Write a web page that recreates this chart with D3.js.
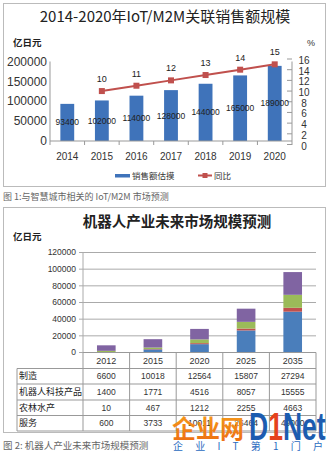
<!DOCTYPE html>
<html><head><meta charset="utf-8">
<script src="https://cdn.jsdelivr.net/npm/d3@7"></script>
<style>
html,body{margin:0;padding:0;background:#fff;}
svg{display:block;}
text{font-family:"Liberation Sans","DejaVu Sans",sans-serif;}
.cjk{font-family:"Noto Sans CJK SC","Noto Sans",sans-serif;}
</style></head>
<body>
<svg id="c" width="331" height="452"></svg>
<script>
// ---------- Chart 1 data ----------
const years1 = ["2014","2015","2016","2017","2018","2019","2020"];
const sales = [93400,102000,114000,128000,144000,165000,189000];
const yoyYears = ["2015","2016","2017","2018","2019","2020"];
const yoy = [10,11,12,13,14,15];
const leftTicks = [0,50000,100000,150000,200000];
const rightTicks = [0,2,4,6,8,10,12,14,16];

// ---------- Chart 2 data ----------
const years2 = ["2012","2015","2020","2025","2035"];
const rowNames = ["制造","机器人科技产品","农林水产","服务"];
const manufacturing = [6600,10018,12564,15807,27294];
const robotProducts = [1400,1771,4516,8057,15555];
const agriculture = [10,467,1212,2255,4663];
const services = [600,3733,10011,26464,49000];
const ticks2 = [0,20000,40000,60000,80000,100000,120000];

const svg = d3.select("#c");

// ===== Chart 1 =====
svg.append("rect").attr("x",3.5).attr("y",3.5).attr("width",322).attr("height",183)
  .attr("fill","#fff").attr("stroke","#bbb");
svg.append("text").attr("class","cjk").attr("x",165).attr("y",22).attr("text-anchor","middle")
  .attr("font-size",15).attr("fill","#222").text("2014-2020年IoT/M2M关联销售额规模");
svg.append("text").attr("class","cjk").attr("x",13).attr("y",46).attr("font-size",9.5)
  .attr("font-weight","bold").attr("fill","#222").text("亿日元");
svg.append("text").attr("x",307).attr("y",46).attr("font-size",9).attr("fill","#333").text("%");

const x1 = d3.scaleBand().domain(years1).range([50,292]).paddingInner(0.6).paddingOuter(0.3);
const y1 = d3.scaleLinear().domain([0,200000]).range([141,61.5]);
const y1r = d3.scaleLinear().domain([0,16]).range([144.5,59]);

// left axis
svg.append("line").attr("x1",50).attr("x2",50).attr("y1",61.5).attr("y2",141).attr("stroke","#999");
svg.append("g").selectAll("text").data(leftTicks).join("text")
  .attr("x",47).attr("y",d=>y1(d)).attr("dy","0.35em").attr("text-anchor","end")
  .attr("font-size",12).attr("fill","#333").text(d=>d);
// right axis
svg.append("line").attr("x1",292).attr("x2",292).attr("y1",61.5).attr("y2",141).attr("stroke","#999");
svg.append("g").selectAll("line").data(rightTicks).join("line")
  .attr("x1",287).attr("x2",292).attr("y1",d=>y1r(d)).attr("y2",d=>y1r(d)).attr("stroke","#999");
svg.append("g").selectAll("text").data(rightTicks).join("text")
  .attr("x",304).attr("y",d=>y1r(d)+1.5).attr("dy","0.35em").attr("text-anchor","middle")
  .attr("font-size",10).attr("fill","#333").text(d=>d);
// bars
svg.append("g").selectAll("rect").data(sales).join("rect")
  .attr("x",(d,i)=>x1(years1[i])).attr("width",x1.bandwidth())
  .attr("y",d=>y1(d)).attr("height",d=>y1(0)-y1(d)).attr("fill","#3f73ba");
// x axis
svg.append("line").attr("x1",50).attr("x2",292).attr("y1",141).attr("y2",141).attr("stroke","#999");
svg.append("g").selectAll("line").data(d3.range(years1.length+1)).join("line")
  .attr("x1",d=>50+d*x1.step()).attr("x2",d=>50+d*x1.step()).attr("y1",141).attr("y2",145).attr("stroke","#999");
svg.append("g").selectAll("text").data(years1).join("text")
  .attr("x",d=>x1(d)+x1.bandwidth()/2).attr("y",160).attr("text-anchor","middle")
  .attr("font-size",10).attr("fill","#333").text(d=>d);
// bar labels
svg.append("g").selectAll("text").data(sales).join("text")
  .attr("x",(d,i)=>x1(years1[i])+x1.bandwidth()/2).attr("y",d=>(y1(d)+y1(0))/2)
  .attr("dy","0.35em").attr("text-anchor","middle").attr("font-size",8.5).attr("fill","#222").text(d=>d);
// line
const lx = d=>x1(d)+x1.bandwidth()/2;
svg.append("path").datum(yoy).attr("fill","none").attr("stroke","#c0504d").attr("stroke-width",2)
  .attr("d",d3.line().x((d,i)=>lx(yoyYears[i])).y(d=>y1r(d)));
svg.append("g").selectAll("rect").data(yoy).join("rect")
  .attr("x",(d,i)=>lx(yoyYears[i])-3).attr("y",d=>y1r(d)-3).attr("width",6).attr("height",6).attr("fill","#c0504d");
svg.append("g").selectAll("text").data(yoy).join("text")
  .attr("x",(d,i)=>lx(yoyYears[i])).attr("y",d=>y1r(d)-9).attr("text-anchor","middle")
  .attr("font-size",9).attr("fill","#222").text(d=>d);
// legend
svg.append("rect").attr("x",115).attr("y",174).attr("width",15).attr("height",3.5).attr("fill","#3f73ba");
svg.append("text").attr("class","cjk").attr("x",132).attr("y",179).attr("font-size",8.5).attr("fill","#333").text("销售额估摸");
svg.append("line").attr("x1",198).attr("x2",212).attr("y1",175.5).attr("y2",175.5).attr("stroke","#c0504d").attr("stroke-width",2);
svg.append("rect").attr("x",202.5).attr("y",173).attr("width",5).attr("height",5).attr("fill","#c0504d");
svg.append("text").attr("class","cjk").attr("x",214).attr("y",179).attr("font-size",8.5).attr("fill","#333").text("同比");

// caption 1
svg.append("text").attr("class","cjk").attr("x",3).attr("y",200).attr("font-size",9).attr("fill","#666")
  .text("图 1:与智慧城市相关的 IoT/M2M 市场预测");

// ===== Chart 2 =====
svg.append("rect").attr("x",3.5).attr("y",207.5).attr("width",322).attr("height",225)
  .attr("fill","#fff").attr("stroke","#bbb");
svg.append("text").attr("class","cjk").attr("x",177).attr("y",227).attr("text-anchor","middle")
  .attr("font-size",14.5).attr("font-weight","bold").attr("fill","#222").text("机器人产业未来市场规模预测");
svg.append("text").attr("class","cjk").attr("x",13).attr("y",240).attr("font-size",9.5)
  .attr("font-weight","bold").attr("fill","#222").text("亿日元");

const x2 = d3.scaleBand().domain(years2).range([83,316]).paddingInner(0.6).paddingOuter(0.3);
const y2 = d3.scaleLinear().domain([0,120000]).range([352.5,252.5]);

svg.append("g").selectAll("line").data(ticks2).join("line")
  .attr("x1",79).attr("x2",316).attr("y1",d=>y2(d)).attr("y2",d=>y2(d)).attr("stroke","#aaa");
svg.append("line").attr("x1",83).attr("x2",83).attr("y1",252.5).attr("y2",352.5).attr("stroke","#aaa");
svg.append("g").selectAll("text").data(ticks2).join("text")
  .attr("x",76).attr("y",d=>y2(d)).attr("dy","0.35em").attr("text-anchor","end")
  .attr("font-size",8.5).attr("fill","#333").text(d=>d);

const stackColors = ["#4a7ebb","#c0504d","#9bbb59","#8064a2"];
const stackRows = years2.map((y,i)=>({year:y, s0:services[i], s1:agriculture[i], s2:robotProducts[i], s3:manufacturing[i]}));
const stacked = d3.stack().keys(["s0","s1","s2","s3"])(stackRows);
svg.append("g").selectAll("g").data(stacked).join("g").attr("fill",(d,i)=>stackColors[i])
  .selectAll("rect").data(d=>d).join("rect")
  .attr("x",d=>x2(d.data.year)).attr("width",x2.bandwidth())
  .attr("y",d=>y2(d[1])).attr("height",d=>y2(d[0])-y2(d[1]));

// data table
const colEdges = d3.range(years2.length+1).map(i=>83+i*x2.step());
const rowY = [352.5,368.5,384,400,415.5,431];
const tg = svg.append("g").attr("stroke","#999").attr("fill","none");
tg.append("line").attr("x1",83).attr("x2",316).attr("y1",352.5).attr("y2",352.5);
rowY.slice(1).forEach(y=>tg.append("line").attr("x1",17).attr("x2",316).attr("y1",y).attr("y2",y));
colEdges.forEach(x=>tg.append("line").attr("x1",x).attr("x2",x).attr("y1",352.5).attr("y2",431));
tg.append("line").attr("x1",17).attr("x2",17).attr("y1",368.5).attr("y2",431);
svg.append("g").selectAll("text").data(years2).join("text")
  .attr("x",d=>x2(d)+x2.bandwidth()/2).attr("y",(rowY[0]+rowY[1])/2).attr("dy","0.35em")
  .attr("text-anchor","middle").attr("font-size",9).attr("fill","#333").text(d=>d);
const tableRows = [manufacturing, robotProducts, agriculture, services];
tableRows.forEach((vals,r)=>{
  const cy = (rowY[r+1]+rowY[r+2])/2;
  svg.append("text").attr("class","cjk").attr("x",19).attr("y",cy).attr("dy","0.35em")
    .attr("font-size",9).attr("fill","#222").text(rowNames[r]);
  svg.append("g").selectAll("text").data(vals).join("text")
    .attr("x",(d,i)=>x2(years2[i])+x2.bandwidth()/2).attr("y",cy).attr("dy","0.35em")
    .attr("text-anchor","middle").attr("font-size",8.5).attr("fill","#333").text(d=>d);
});

// caption 2
svg.append("text").attr("class","cjk").attr("x",3).attr("y",449).attr("font-size",9.5).attr("fill","#666")
  .text("图 2: 机器人产业未来市场规模预测");

// watermark
const grad = svg.append("defs").append("linearGradient").attr("id","og").attr("x1",0).attr("y1",0).attr("x2",0).attr("y2",1);
grad.append("stop").attr("offset","0%").attr("stop-color","#f7a21b");
grad.append("stop").attr("offset","100%").attr("stop-color","#ec6a12");
svg.append("text").attr("class","cjk").attr("transform","translate(172,438) scale(1,1.05)").attr("font-size",24)
  .attr("font-weight","bold").attr("fill","url(#og)").text("企业网");
const dn = svg.append("text").attr("transform","translate(249,440) scale(1,1.45)").attr("font-size",26.5)
  .attr("font-weight","bold").attr("fill","#1c5cb0");
dn.append("tspan").text("D");
dn.append("tspan").attr("fill","#e5421d").text("1");
dn.append("tspan").text("Net");
svg.append("text").attr("class","cjk").attr("x",173).attr("y",450).attr("font-size",10)
  .attr("fill","#2a6bbf").attr("textLength",150).attr("lengthAdjust","spacing").text("企业IT第1门户");
</script>
</body></html>
